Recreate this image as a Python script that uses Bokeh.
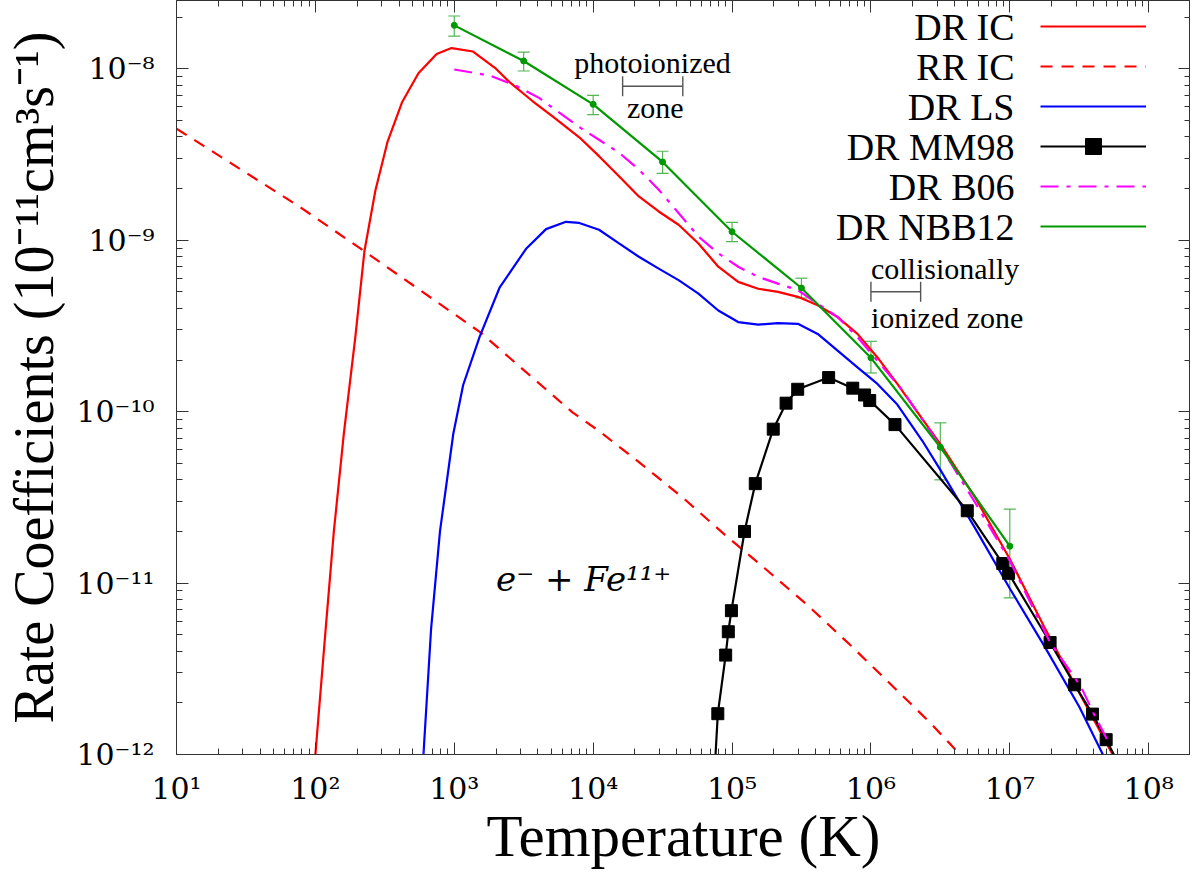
from bokeh.embed import file_html
from bokeh.models import (ColumnDataSource, CustomJSTickFormatter, FixedTicker,
                          Label, Legend, LegendItem, LogAxis, Range1d, TeeHead,
                          Whisker)
from bokeh.plotting import figure
from bokeh.resources import INLINE

# ---- data (T in K, rate in 1e-11 cm^3 s^-1) ----
dr_ic_T = [95.5, 100, 118.6, 135.8, 160.3, 194.1, 225.4, 270.4, 331.1, 419.8,
           552.1, 746.4, 955, 1365, 1995, 2512, 3673, 5129, 7943, 1.102e4,
           1.535e4, 2.133e4, 2.965e4, 4.121e4, 5.728e4, 7.962e4, 1.107e5,
           1.542e5, 2.143e5, 2.979e5, 4.140e5, 5.754e5, 8.0e5, 1.114e6, 1.549e6,
           2.239e6, 3.162e6, 5.623e6, 1.0e7, 1.778e7, 3.162e7, 5.495e7, 6.026e7]
dr_ic = [5.6e-13, 1.0e-12, 5.41e-12, 2.0e-11, 7.43e-11, 2.74e-10, 8.61e-10,
         1.95e-9, 3.76e-9, 6.35e-9, 9.4e-9, 1.22e-8, 1.32e-8, 1.26e-8, 1.0e-8,
         8.32e-9, 6.46e-9, 5.25e-9, 3.98e-9, 3.09e-9, 2.36e-9, 1.80e-9, 1.47e-9,
         1.23e-9, 9.57e-10, 7.0e-10, 5.71e-10, 5.21e-10, 4.99e-10, 4.67e-10,
         4.17e-10, 3.56e-10, 2.84e-10, 2.07e-10, 1.45e-10, 9.55e-11, 6.46e-11,
         3.16e-11, 1.38e-11, 5.5e-12, 2.29e-12, 1.0e-12, 8.5e-13]

rr_ic_T = [10, 78.5, 225.4, 1524, 7096, 1.102e4, 2.249e4, 4.603e4, 8.89e4,
           1.718e5, 3.508e5, 7.161e5, 1.387e6, 2.679e6, 3.724e6, 4.365e6]
rr_ic = [4.47e-9, 1.55e-9, 8.61e-10, 2.92e-10, 9.9e-11, 7.71e-11, 4.91e-11,
         3.06e-11, 1.91e-11, 1.22e-11, 7.41e-12, 4.32e-12, 2.57e-12, 1.53e-12,
         1.15e-12, 1.0e-12]

dr_ls_T = [575, 600, 681, 789, 984, 1159, 1524, 2118, 3289, 4581, 6368, 7943,
           1.102e4, 1.535e4, 2.133e4, 2.965e4, 4.121e4, 5.728e4, 7.962e4,
           1.107e5, 1.542e5, 2.143e5, 2.979e5, 4.14e5, 5.754e5, 8.0e5, 1.114e6,
           1.549e6, 2.344e6, 3.162e6, 5.623e6, 1.0e7, 1.778e7, 3.162e7, 4.677e7,
           5.248e7]
dr_ls = [6.3e-13, 1.0e-12, 5.41e-12, 2.0e-11, 7.43e-11, 1.43e-10, 2.74e-10,
         5.28e-10, 8.91e-10, 1.16e-9, 1.28e-9, 1.26e-9, 1.15e-9, 9.57e-10,
         8.0e-10, 6.82e-10, 5.85e-10, 4.88e-10, 3.89e-10, 3.33e-10, 3.22e-10,
         3.28e-10, 3.25e-10, 2.84e-10, 2.27e-10, 1.81e-10, 1.45e-10, 1.10e-10,
         6.76e-11, 4.57e-11, 2.09e-11, 9.3e-12, 4.27e-12, 1.9e-12, 1.0e-12,
         8.3e-13]

mm98_T = [7.0e4, 7.9e4, 9.0e4, 9.4e4, 9.9e4, 1.23e5, 1.47e5, 1.98e5, 2.45e5,
          2.97e5, 4.96e5, 7.4e5, 9.0e5, 9.8e5, 1.49e6, 4.94e6, 8.9e6, 9.8e6,
          1.95e7, 2.93e7, 3.94e7, 4.94e7, 6.0e7]
mm98 = [3.0e-13, 1.73e-12, 3.8e-12, 5.2e-12, 6.9e-12, 2.0e-11, 3.8e-11, 7.9e-11,
        1.12e-10, 1.35e-10, 1.58e-10, 1.37e-10, 1.25e-10, 1.16e-10, 8.4e-11,
        2.64e-11, 1.3e-11, 1.14e-11, 4.5e-12, 2.55e-12, 1.72e-12, 1.22e-12,
        9.0e-13]

b06_T = [1.0e3, 1.8e3, 2.793e3, 4.074e3, 7.925e3, 1.102e4, 1.535e4, 2.133e4,
         2.965e4, 4.121e4, 5.728e4, 7.962e4, 1.107e5, 1.542e5, 2.143e5, 2.979e5,
         4.14e5, 5.754e5, 8.0e5, 1.114e6, 1.70e6, 3.16e6, 5.62e6, 1.0e7, 1.95e7,
         3.24e7, 3.98e7, 5.0e7]
b06 = [9.9e-9, 9.12e-9, 7.94e-9, 6.76e-9, 4.57e-9, 3.85e-9, 3.24e-9, 2.58e-9,
       1.97e-9, 1.44e-9, 1.05e-9, 8.38e-10, 7.0e-10, 6.11e-10, 5.58e-10,
       5.11e-10, 4.26e-10, 3.56e-10, 2.72e-10, 1.98e-10, 1.32e-10, 6.3e-11,
       2.95e-11, 1.35e-11, 4.5e-12, 2.5e-12, 1.76e-12, 1.23e-12]

nbb12_T = [1.0e3, 3.16e3, 1.0e4, 3.16e4, 1.0e5, 3.16e5, 1.0e6, 3.16e6, 1.0e7]
nbb12 = [1.79e-8, 1.11e-8, 6.2e-9, 2.86e-9, 1.12e-9, 5.26e-10, 2.06e-10,
         6.2e-11, 1.64e-11]
nbb12_lo = [1.55e-8, 0.97e-8, 5.4e-9, 2.45e-9, 0.98e-9, 4.6e-10, 1.68e-10,
            4.0e-11, 8.2e-12]
nbb12_hi = [2.03e-8, 1.25e-8, 7.0e-9, 3.3e-9, 1.27e-9, 6.0e-10, 2.57e-10,
            8.6e-11, 2.7e-11]

# temperature zones (bracket ends) and the rate level they sit at
zone_lo = [1.63e4, 1.0e6]
zone_hi = [4.42e4, 2.28e6]
zone_y = [7.9e-9, 5.0e-10]

legend_labels = ["DR IC", "RR IC", "DR LS", "DR MM98", "DR B06", "DR NBB12"]

x_major = [1e1, 1e2, 1e3, 1e4, 1e5, 1e6, 1e7, 1e8]
y_major = [1e-12, 1e-11, 1e-10, 1e-9, 1e-8]
mants = [2, 3, 4, 5, 6, 7, 8, 9]

FONT = "Liberation Serif"
TICK_FONT = "DejaVu Serif"

p = figure(width=1190, height=871, x_axis_type="log", y_axis_type="log",
           x_range=Range1d(10, 2e8), y_range=Range1d(1e-12, 2.5e-8),
           output_backend="svg", toolbar_location=None, tools="")
p.min_border_left = 167
p.min_border_right = 0
p.min_border_top = 0
p.min_border_bottom = 0
p.xgrid.visible = False
p.ygrid.visible = False
p.outline_line_color = "#333333"
p.background_fill_color = "white"
p.border_fill_color = "white"

xaxis = p.xaxis[0]
yaxis = p.yaxis[0]

xticker = FixedTicker(ticks=x_major, minor_ticks=[m * t for t in x_major for m in mants])
yticker = FixedTicker(ticks=y_major, minor_ticks=[m * t for t in y_major for m in mants])

sup_fmt = CustomJSTickFormatter(code=r"""
const sup = {"-": "\u207b", "0": "\u2070", "1": "\u00b9", "2": "\u00b2",
             "3": "\u00b3", "4": "\u2074", "5": "\u2075", "6": "\u2076",
             "7": "\u2077", "8": "\u2078", "9": "\u2079"};
const e = Math.round(Math.log10(tick));
return "10" + String(e).split("").map(c => sup[c]).join("");
""")
blank_fmt = CustomJSTickFormatter(code="return '';")

xaxis.ticker = xticker
yaxis.ticker = yticker
xaxis.formatter = sup_fmt
yaxis.formatter = sup_fmt

top = LogAxis(ticker=xticker, formatter=blank_fmt)
right = LogAxis(ticker=yticker, formatter=blank_fmt)
p.add_layout(top, "above")
p.add_layout(right, "right")

for ax in [xaxis, yaxis, top, right]:
    ax.major_tick_in = 12
    ax.major_tick_out = 0
    ax.minor_tick_in = 6
    ax.minor_tick_out = 0
    ax.axis_line_color = "#333333"
    ax.major_tick_line_color = "#333333"
    ax.minor_tick_line_color = "#333333"
    ax.major_label_text_font = TICK_FONT
    ax.major_label_text_font_size = "30px"
    ax.major_label_text_color = "black"
for ax in [top, right]:
    ax.major_label_text_font_size = "0px"
    ax.major_label_standoff = 0

xaxis.major_label_standoff = 16
yaxis.major_label_standoff = 22
xaxis.axis_label = "Temperature (K)"
yaxis.axis_label = "Rate Coefficients (10\u207b\u00b9\u00b9cm\u00b3s\u207b\u00b9)"
for ax in [xaxis, yaxis]:
    ax.axis_label_text_font = FONT
    ax.axis_label_text_font_style = "normal"
    ax.axis_label_text_color = "black"
xaxis.axis_label_text_font_size = "59px"
yaxis.axis_label_text_font_size = "56px"
xaxis.axis_label_standoff = -6
yaxis.axis_label_standoff = 8

# ---- series ----
rr = p.line(rr_ic_T, rr_ic, color="#ff0000", line_width=2.2, line_dash="12 9")
ls = p.line(dr_ls_T, dr_ls, color="#0000ff", line_width=2.2)
ic = p.line(dr_ic_T, dr_ic, color="#ff0000", line_width=2.2)
mm_line = p.line(mm98_T, mm98, color="black", line_width=2.2)
mm_pts = p.scatter(mm98_T, mm98, marker="square", size=12, color="black")
b06_line = p.line(b06_T, b06, color="#ff00ff", line_width=2.2, line_dash="18 8 4 8")

nbb_src = ColumnDataSource(dict(T=nbb12_T, rate=nbb12, lo=nbb12_lo, hi=nbb12_hi))
err_col = "#55b555"
p.add_layout(Whisker(base="T", lower="lo", upper="hi", source=nbb_src,
                     dimension="height", line_color=err_col, line_width=1.2,
                     upper_head=TeeHead(size=12, line_color=err_col, line_width=1.2),
                     lower_head=TeeHead(size=12, line_color=err_col, line_width=1.2)))
nbb_line = p.line("T", "rate", source=nbb_src, color="#009900", line_width=2.2)
p.scatter("T", "rate", source=nbb_src, size=6, color="#009900")

# ---- zone brackets ----
zone_src = ColumnDataSource(dict(y=zone_y, lo=zone_lo, hi=zone_hi))
zc = "#555555"
p.add_layout(Whisker(base="y", lower="lo", upper="hi", source=zone_src,
                     dimension="width", line_color=zc, line_width=1.4,
                     upper_head=TeeHead(size=20, line_color=zc, line_width=1.4),
                     lower_head=TeeHead(size=20, line_color=zc, line_width=1.4)))

notes = [
    ("photoionized", 7.3e3, zone_y[0], 24),
    ("zone", 1.75e4, zone_y[0], -21),
    ("collisionally", zone_lo[1], zone_y[1], 23),
    ("ionized zone", zone_lo[1], zone_y[1], -26),
]
for txt, x, y, off in notes:
    p.add_layout(Label(x=x, y=y, y_offset=off, text=txt, text_font=FONT,
                       text_font_size="30px", text_baseline="middle",
                       text_align="left", text_color="black"))

p.add_layout(Label(x=2.0e3, y=1.06e-11, text="e\u207b + Fe\u00b9\u00b9\u207a",
                   text_font=TICK_FONT, text_font_size="34px",
                   text_font_style="italic", text_baseline="middle",
                   text_align="left", text_color="black"))

# ---- legend: samples from a Legend, names as right-aligned labels ----
rends = [[ic], [rr], [ls], [mm_line, mm_pts], [b06_line], [nbb_line]]
legend = Legend(items=[LegendItem(label=" ", renderers=r) for r in rends],
                location=(864, 508), glyph_width=106, glyph_height=40,
                label_height=40, label_standoff=0, label_text_font_size="10px",
                padding=0, margin=0, spacing=0, border_line_color=None,
                background_fill_alpha=0)
p.add_layout(legend)
for i, name in enumerate(legend_labels):
    p.add_layout(Label(x=838, y=728 - 40 * i, x_units="screen", y_units="screen",
                       text=name, text_font=FONT, text_font_size="38px",
                       text_align="right", text_baseline="middle",
                       text_color="black"))

open("out.html", "w").write(file_html(p, INLINE))
